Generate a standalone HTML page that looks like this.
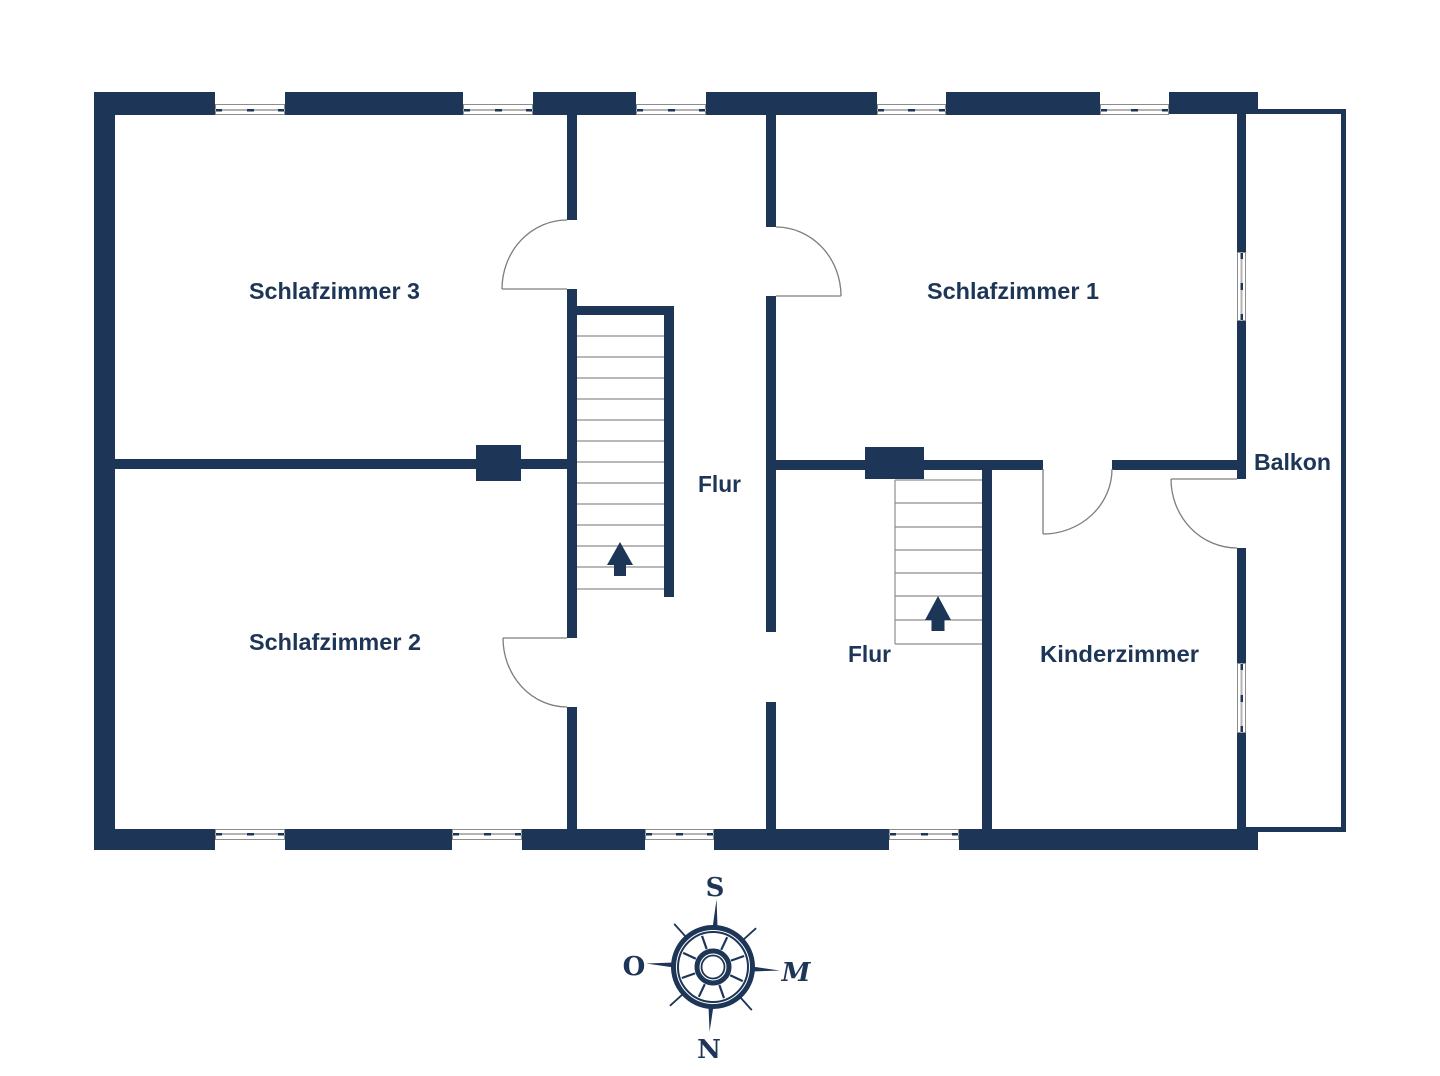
<!DOCTYPE html>
<html><head><meta charset="utf-8"><style>html,body{margin:0;padding:0;background:#fff;}svg{display:block}</style></head>
<body>
<svg width="1440" height="1076" viewBox="0 0 1440 1076" xmlns="http://www.w3.org/2000/svg">
<rect width="1440" height="1076" fill="#fff"/>
<g fill="#1d3556">
  <rect x="94" y="92" width="121" height="23"/>
  <rect x="285" y="92" width="178" height="23"/>
  <rect x="533" y="92" width="103" height="23"/>
  <rect x="706" y="92" width="171" height="23"/>
  <rect x="946" y="92" width="154" height="23"/>
  <rect x="1169" y="92" width="89" height="22"/>
  <rect x="94" y="829" width="121" height="21"/>
  <rect x="285" y="829" width="167" height="21"/>
  <rect x="522" y="829" width="123" height="21"/>
  <rect x="714" y="829" width="175" height="21"/>
  <rect x="959" y="829" width="299" height="21"/>
  <rect x="94" y="92" width="21" height="758"/>
  <rect x="1237" y="112" width="9" height="140"/>
  <rect x="1237" y="321" width="9" height="158"/>
  <rect x="1237" y="548" width="9" height="115"/>
  <rect x="1237" y="733" width="9" height="97"/>
  <rect x="1258" y="109" width="88" height="5"/>
  <rect x="1341" y="109" width="5" height="723"/>
  <rect x="1246" y="827" width="100" height="5"/>
  <rect x="567" y="114" width="10" height="106"/>
  <rect x="567" y="289" width="10" height="349"/>
  <rect x="567" y="707" width="10" height="122"/>
  <rect x="577" y="306" width="97" height="9"/>
  <rect x="664" y="306" width="10" height="291"/>
  <rect x="766" y="114" width="10" height="113"/>
  <rect x="766" y="296" width="10" height="336"/>
  <rect x="766" y="702" width="10" height="127"/>
  <rect x="115" y="459" width="452" height="10"/>
  <rect x="476" y="445" width="45" height="36"/>
  <rect x="776" y="460" width="267" height="10"/>
  <rect x="1112" y="460" width="125" height="10"/>
  <rect x="865" y="447" width="59" height="32"/>
  <rect x="982" y="469" width="10" height="360"/>
</g>

<g>
  <g fill="#fff" stroke="#8c8c8c" stroke-width="1">
    <rect x="215.5" y="104.5" width="69" height="10"/>
    <rect x="463.5" y="104.5" width="69" height="10"/>
    <rect x="636.5" y="104.5" width="69" height="10"/>
    <rect x="877.5" y="104.5" width="68" height="10"/>
    <rect x="1100.5" y="104.5" width="68" height="10"/>
    <rect x="215.5" y="829.5" width="69" height="10"/>
    <rect x="452.5" y="829.5" width="69" height="10"/>
    <rect x="645.5" y="829.5" width="68" height="10"/>
    <rect x="889.5" y="829.5" width="69" height="10"/>
    <rect x="1237.5" y="252.5" width="8" height="68"/>
    <rect x="1237.5" y="663.5" width="8" height="69"/>
  </g>
  <g stroke="#b3b3b3" stroke-width="2">
    <line x1="215" y1="110" x2="285" y2="110"/>
    <line x1="463" y1="110" x2="533" y2="110"/>
    <line x1="636" y1="110" x2="706" y2="110"/>
    <line x1="877" y1="110" x2="946" y2="110"/>
    <line x1="1100" y1="110" x2="1169" y2="110"/>
    <line x1="215" y1="834" x2="285" y2="834"/>
    <line x1="452" y1="834" x2="522" y2="834"/>
    <line x1="645" y1="834" x2="714" y2="834"/>
    <line x1="889" y1="834" x2="959" y2="834"/>
    <line x1="1241.5" y1="252" x2="1241.5" y2="321"/>
    <line x1="1241.5" y1="663" x2="1241.5" y2="733"/>
  </g>
  <g fill="#1d3556">
    <rect x="216" y="109" width="6" height="2.5"/><rect x="247" y="109" width="7" height="2.5"/><rect x="278" y="109" width="6" height="2.5"/>
    <rect x="464" y="109" width="6" height="2.5"/><rect x="495" y="109" width="7" height="2.5"/><rect x="526" y="109" width="6" height="2.5"/>
    <rect x="637" y="109" width="6" height="2.5"/><rect x="668" y="109" width="7" height="2.5"/><rect x="699" y="109" width="6" height="2.5"/>
    <rect x="878" y="109" width="6" height="2.5"/><rect x="908" y="109" width="7" height="2.5"/><rect x="939" y="109" width="6" height="2.5"/>
    <rect x="1101" y="109" width="6" height="2.5"/><rect x="1131" y="109" width="7" height="2.5"/><rect x="1162" y="109" width="6" height="2.5"/>
    <rect x="216" y="833" width="6" height="2.5"/><rect x="247" y="833" width="7" height="2.5"/><rect x="278" y="833" width="6" height="2.5"/>
    <rect x="453" y="833" width="6" height="2.5"/><rect x="484" y="833" width="7" height="2.5"/><rect x="515" y="833" width="6" height="2.5"/>
    <rect x="646" y="833" width="6" height="2.5"/><rect x="676" y="833" width="7" height="2.5"/><rect x="707" y="833" width="6" height="2.5"/>
    <rect x="890" y="833" width="6" height="2.5"/><rect x="921" y="833" width="7" height="2.5"/><rect x="952" y="833" width="6" height="2.5"/>
    <rect x="1240.5" y="253" width="2.5" height="6"/><rect x="1240.5" y="283" width="2.5" height="7"/><rect x="1240.5" y="314" width="2.5" height="6"/>
    <rect x="1240.5" y="664" width="2.5" height="6"/><rect x="1240.5" y="695" width="2.5" height="7"/><rect x="1240.5" y="726" width="2.5" height="6"/>
  </g>
</g>

<g stroke="#8e8e8e" stroke-width="1.2" fill="none">
  <line x1="577" y1="336" x2="664" y2="336"/>
  <line x1="577" y1="357" x2="664" y2="357"/>
  <line x1="577" y1="378" x2="664" y2="378"/>
  <line x1="577" y1="399" x2="664" y2="399"/>
  <line x1="577" y1="420" x2="664" y2="420"/>
  <line x1="577" y1="441" x2="664" y2="441"/>
  <line x1="577" y1="462" x2="664" y2="462"/>
  <line x1="577" y1="483" x2="664" y2="483"/>
  <line x1="577" y1="504" x2="664" y2="504"/>
  <line x1="577" y1="525" x2="664" y2="525"/>
  <line x1="577" y1="546" x2="664" y2="546"/>
  <line x1="577" y1="567" x2="664" y2="567"/>
  <line x1="577" y1="589" x2="664" y2="589"/>
  <line x1="895" y1="480" x2="895" y2="644"/>
  <line x1="895" y1="480" x2="982" y2="480"/>
  <line x1="895" y1="503" x2="982" y2="503"/>
  <line x1="895" y1="527" x2="982" y2="527"/>
  <line x1="895" y1="550" x2="982" y2="550"/>
  <line x1="895" y1="573" x2="982" y2="573"/>
  <line x1="895" y1="596" x2="982" y2="596"/>
  <line x1="895" y1="620" x2="982" y2="620"/>
  <line x1="895" y1="644" x2="982" y2="644"/>
</g>
<g fill="#1d3556">
  <polygon points="620,542 633,565 626,565 626,576 614,576 614,565 607,565"/>
  <polygon points="938,596 951,620 944.5,620 944.5,631 931.5,631 931.5,620 925,620"/>
</g>

<g stroke="#7d7d7d" stroke-width="1.3" fill="none">
  <path d="M502,289 L567,289 M502,289 A65,69 0 0 1 567,220"/>
  <path d="M841,296 L776,296 M841,296 A65,69 0 0 0 776,227"/>
  <path d="M503,638 L567,638 M503,638 A64,69 0 0 0 567,707"/>
  <path d="M1043,469 L1043,534 M1043,534 A69,65 0 0 0 1112,469"/>
  <path d="M1237,479 L1171,479 M1171,479 A66,69 0 0 0 1237,548"/>
</g>

<g fill="#1d3556" font-family="'Liberation Sans', sans-serif" font-weight="bold" font-size="23">
  <text x="249" y="299" textLength="171" lengthAdjust="spacingAndGlyphs">Schlafzimmer 3</text>
  <text x="249" y="650" textLength="172" lengthAdjust="spacingAndGlyphs">Schlafzimmer 2</text>
  <text x="927" y="299" textLength="172" lengthAdjust="spacingAndGlyphs">Schlafzimmer 1</text>
  <text x="698" y="492" textLength="43" lengthAdjust="spacingAndGlyphs">Flur</text>
  <text x="848" y="662" textLength="43" lengthAdjust="spacingAndGlyphs">Flur</text>
  <text x="1040" y="662" textLength="159" lengthAdjust="spacingAndGlyphs">Kinderzimmer</text>
  <text x="1254" y="470" textLength="77" lengthAdjust="spacingAndGlyphs">Balkon</text>
</g>

<g transform="rotate(3 713 967)">
  <g fill="none" stroke="#1d3556">
    <circle cx="713" cy="967" r="39.5" stroke-width="5"/>
    <circle cx="713" cy="967" r="35" stroke-width="2"/>
    <circle cx="713" cy="967" r="16" stroke-width="5"/>
    <circle cx="713" cy="967" r="11.5" stroke-width="1.8"/>
  </g>
  <g stroke="#1d3556" stroke-width="2.2">
    <line x1="720.3" y1="949.4" x2="725.6" y2="936.5"/>
    <line x1="705.7" y1="949.4" x2="700.4" y2="936.5"/>
    <line x1="730.6" y1="959.7" x2="743.5" y2="954.4"/>
    <line x1="695.4" y1="959.7" x2="682.5" y2="954.4"/>
    <line x1="730.6" y1="974.3" x2="743.5" y2="979.6"/>
    <line x1="695.4" y1="974.3" x2="682.5" y2="979.6"/>
    <line x1="720.3" y1="984.6" x2="725.6" y2="997.5"/>
    <line x1="705.7" y1="984.6" x2="700.4" y2="997.5"/>
  </g>
  <g fill="#1d3556">
    <polygon points="710.5,928 715.5,928 713,899"/>
    <polygon points="710.5,1006 715.5,1006 713,1032"/>
    <polygon points="674,964.5 674,969.5 646,967"/>
    <polygon points="752,964.5 752,969.5 780,967"/>
  </g>
  <g stroke="#1d3556" stroke-width="1.8">
    <line x1="742" y1="938" x2="754" y2="926"/>
    <line x1="684" y1="938" x2="672" y2="926"/>
    <line x1="742" y1="996" x2="754" y2="1008"/>
    <line x1="684" y1="996" x2="672" y2="1008"/>
  </g>
</g>
<g fill="#1d3556" font-family="'DejaVu Serif', serif" font-weight="bold" font-size="26" text-anchor="middle">
  <text x="715" y="896">S</text>
  <text x="634" y="975">O</text>
  <text x="796" y="981" font-style="italic">M</text>
  <text x="709" y="1058">N</text>
</g>
</svg>
</body></html>
